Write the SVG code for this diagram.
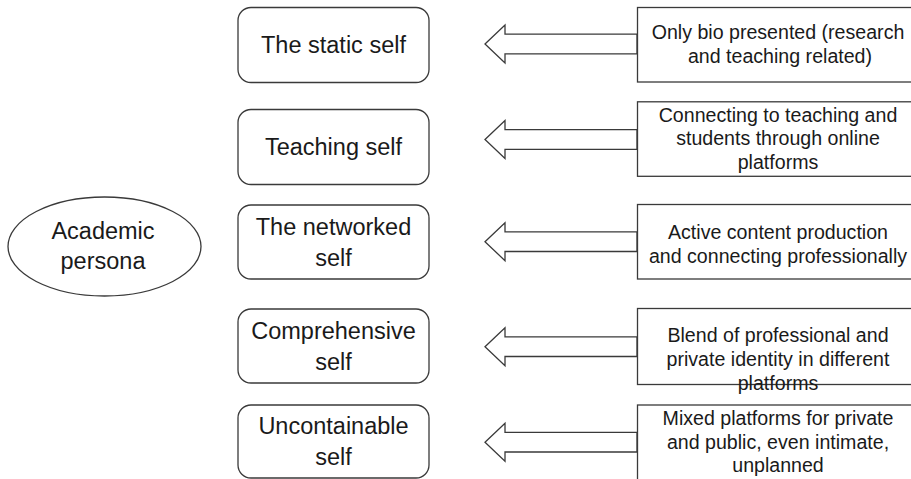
<svg xmlns="http://www.w3.org/2000/svg" width="911" height="479" viewBox="0 0 911 479">
  <style>
    .shape { fill: #ffffff; stroke: #3a3a3a; stroke-width: 1.3; }
    .big { font-family: "Liberation Sans", Arial, sans-serif; font-size: 23.5px; fill: #1a1a1a; text-anchor: middle; }
    .small { font-family: "Liberation Sans", Arial, sans-serif; font-size: 19.6px; fill: #1a1a1a; text-anchor: middle; }
  </style>
  <defs>
    <!-- hollow block arrow pointing left, origin at the tip; its flat tail sits on the box edge -->
    <path id="blockArrow" d="M0,0 L20,-19 L20,-9.8 L152,-9.8 L152,9.8 L20,9.8 L20,19 Z" />
  </defs>
  <rect width="911" height="479" fill="#ffffff"/>

  <g id="academic-persona">
    <ellipse class="shape" cx="104.5" cy="246.5" rx="96.5" ry="49.5"/>
    <text class="big" x="103" y="239">Academic</text>
    <text class="big" x="103" y="269">persona</text>
  </g>

  <g id="static-self">
    <rect class="shape" x="238" y="7.5" width="191" height="75" rx="13"/>
    <text class="big" x="333.5" y="53">The static self</text>
  </g>
  <g id="teaching-self">
    <rect class="shape" x="238" y="109.5" width="191" height="75" rx="13"/>
    <text class="big" x="333.5" y="155">Teaching self</text>
  </g>
  <g id="networked-self">
    <rect class="shape" x="238" y="205" width="191" height="74" rx="13"/>
    <text class="big" x="333.5" y="235">The networked</text>
    <text class="big" x="333.5" y="266">self</text>
  </g>
  <g id="comprehensive-self">
    <rect class="shape" x="238" y="309" width="191" height="74" rx="13"/>
    <text class="big" x="333.5" y="338.5">Comprehensive</text>
    <text class="big" x="333.5" y="369.5">self</text>
  </g>
  <g id="uncontainable-self">
    <rect class="shape" x="238" y="405" width="191" height="73" rx="13"/>
    <text class="big" x="333.5" y="433.5">Uncontainable</text>
    <text class="big" x="333.5" y="465">self</text>
  </g>

  <g id="connectors">
    <use href="#blockArrow" class="shape" x="485" y="44"/>
    <use href="#blockArrow" class="shape" x="485" y="139.5"/>
    <use href="#blockArrow" class="shape" x="485" y="241.7"/>
    <use href="#blockArrow" class="shape" x="485" y="346.7"/>
    <use href="#blockArrow" class="shape" x="485" y="442.2"/>
  </g>

  <g id="static-desc">
    <rect class="shape" x="637.5" y="7.5" width="290" height="74.5"/>
    <text class="small" x="778" y="39">Only bio presented (research</text>
    <text class="small" x="780" y="63">and teaching related)</text>
  </g>
  <g id="teaching-desc">
    <rect class="shape" x="637.5" y="101.8" width="290" height="74.5"/>
    <text class="small" x="778" y="121.5">Connecting to teaching and</text>
    <text class="small" x="778" y="145">students through online</text>
    <text class="small" x="778" y="169">platforms</text>
  </g>
  <g id="networked-desc">
    <rect class="shape" x="637.5" y="204.5" width="290" height="74.5"/>
    <text class="small" x="778" y="239">Active content production</text>
    <text class="small" x="778" y="262.5">and connecting professionally</text>
  </g>
  <g id="comprehensive-desc">
    <rect class="shape" x="637.5" y="308.5" width="290" height="76"/>
    <text class="small" x="778" y="341.5">Blend of professional and</text>
    <text class="small" x="778" y="365.5">private identity in different</text>
    <text class="small" x="778" y="389.5">platforms</text>
  </g>
  <g id="uncontainable-desc">
    <rect class="shape" x="637.5" y="405" width="290" height="90"/>
    <text class="small" x="778" y="425">Mixed platforms for private</text>
    <text class="small" x="778" y="448.5">and public, even intimate,</text>
    <text class="small" x="778" y="472">unplanned</text>
  </g>
</svg>
